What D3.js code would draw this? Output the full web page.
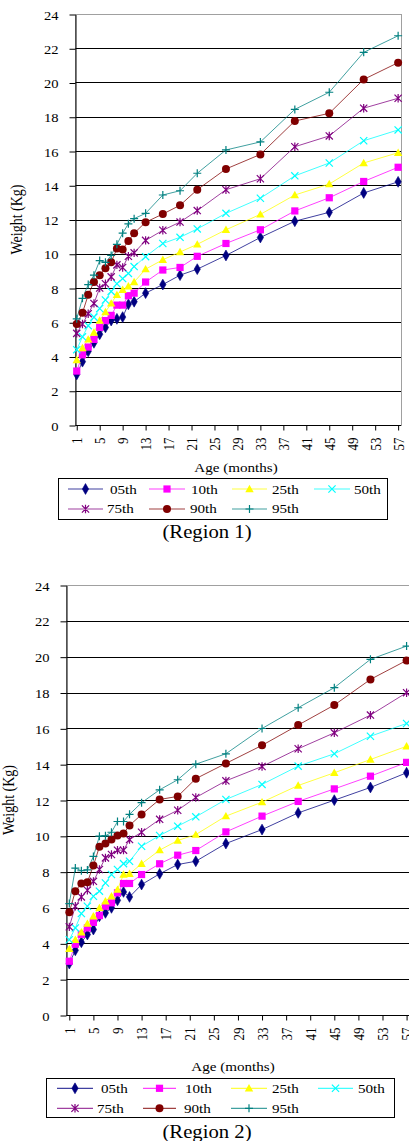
<!DOCTYPE html>
<html><head><meta charset="utf-8">
<script src="https://cdn.jsdelivr.net/npm/d3@7"></script>
<style>
body{margin:0;background:#fff}
svg{display:block}
text{font-family:"Liberation Serif","Times New Roman",serif;fill:#000}
</style>
</head><body>
<svg id="c" width="409" height="1141"></svg>
<script>
// ---------- data ----------
const ages = [1,2,3,4,5,6,7,8,9,10,11,13,16,19,22,27,33,39,45,51,57];
const percentiles = ["05th","10th","25th","50th","75th","90th","95th"];
const xTickValues = [1,5,9,13,17,21,25,29,33,37,41,45,49,53,57];
const yTickValues = [0,2,4,6,8,10,12,14,16,18,20,22,24];

// Region 1
const r1_p05 = [2.95,3.7,4.3,4.8,5.3,5.7,6.1,6.2,6.3,7.05,7.2,7.7,8.2,8.75,9.1,9.9,10.95,11.9,12.42,13.55,14.2];
const r1_p10 = [3.15,4.1,4.55,5.0,5.7,6.1,6.4,7.0,7.0,7.55,7.7,8.35,9.05,9.2,9.85,10.6,11.4,12.5,13.27,14.22,15.05];
const r1_p25 = [3.8,4.5,5.0,5.4,6.1,6.6,7.1,7.6,7.9,8.1,8.35,9.1,9.65,10.1,10.55,11.4,12.3,13.43,14.07,15.3,15.9];
const r1_p50 = [4.4,5.15,5.8,6.3,6.8,7.3,7.8,8.25,8.55,8.85,9.25,9.83,10.6,10.96,11.45,12.36,13.24,14.55,15.3,16.6,17.23];
const r1_p75 = [5.35,5.9,6.5,7.1,8.0,8.25,8.65,9.35,9.2,9.85,10.05,10.78,11.37,11.85,12.52,13.74,14.38,16.25,16.88,18.5,19.08];
const r1_p90 = [5.9,6.55,7.6,8.35,8.75,9.15,9.5,10.3,10.25,10.75,11.2,11.84,12.32,12.83,13.74,14.95,15.8,17.75,18.2,20.18,21.16];
const r1_p95 = [6.2,7.4,8.2,8.75,9.6,9.5,9.9,10.55,11.2,11.75,12.05,12.36,13.43,13.68,14.7,16.06,16.53,18.43,19.43,21.76,22.73];

// Region 2
const r2_p05 = [2.87,3.61,4.06,4.49,4.77,5.51,5.7,5.98,6.4,6.87,6.59,7.28,7.88,8.4,8.58,9.57,10.35,11.28,11.99,12.7,13.52];
const r2_p10 = [3.0,3.95,4.5,4.86,5.17,5.55,6.07,6.26,6.82,7.34,7.34,7.84,8.44,8.92,9.18,10.22,11.1,11.92,12.62,13.33,14.1];
const r2_p25 = [3.69,4.2,4.62,5.1,5.51,5.98,6.35,6.63,7.0,7.84,7.88,8.44,9.2,9.74,10.07,11.1,11.88,12.81,13.52,14.26,15.0];
const r2_p50 = [4.2,4.86,5.66,6.07,6.63,6.91,7.37,7.84,8.12,8.45,8.58,9.42,10.02,10.54,11.06,12.03,12.87,13.89,14.58,15.56,16.27];
const r2_p75 = [4.92,6.07,6.59,6.96,7.46,8.12,8.77,8.96,9.2,9.2,9.79,10.2,10.92,11.43,12.14,13.07,13.87,14.86,15.75,16.74,17.99];
const r2_p90 = [5.73,6.91,7.34,7.41,8.34,9.39,9.57,9.79,10.02,10.13,10.58,11.19,12.03,12.2,13.19,14.04,15.05,16.18,17.3,18.73,19.79];
const r2_p95 = [6.22,8.2,8.05,8.1,8.85,9.98,10.0,10.2,10.8,10.8,11.2,11.85,12.57,13.13,14.0,14.58,15.99,17.15,18.27,19.85,20.59];

// ---------- style ----------
const colors = ["#000080","#FF00FF","#FFFF00","#00FFFF","#800080","#800000","#008080"];
const markerTypes = ["diamond","square","triangle","x","star","circle","plus"];
const SX = 1.12; // horizontal stretch of the original raster text

const panels = [
  { title:"(Region 1)", series:[r1_p05,r1_p10,r1_p25,r1_p50,r1_p75,r1_p90,r1_p95],
    left:75.3, right:401, top:14, bottom:425, xDom:[0.75,57.5],
    yTitleX:17, xTitleX:236, xTitleY:471.7, titleY:537.5,
    legBox:[58,478,387,519], legRows:[489,509], legTextRows:[494,513.3],
    legLine:[[68,103],[149,185],[232,267],[314,350]],
    legText:[[110,191,272,354],[107,190,272]] },
  { title:"(Region 2)", series:[r2_p05,r2_p10,r2_p25,r2_p50,r2_p75,r2_p90,r2_p95],
    left:66.3, right:412, top:585, bottom:1015, xDom:[0.5,57.9],
    yTitleX:9, xTitleX:233, xTitleY:1071, titleY:1138,
    legBox:[45.7,1078,394,1117], legRows:[1088.3,1108.3], legTextRows:[1093.3,1113.3],
    legLine:[[57,93],[143,176],[231,267],[318,353]],
    legText:[[101,185,272,358],[97,184,272]] }
];

const svg = d3.select("#c");

function marker(g, type, color, cx, cy){
  const s = 3.6;
  if (type==="diamond"){
    g.append("path").attr("d", d3.symbol(d3.symbolDiamond, 34)()).attr("transform",`translate(${cx},${cy})`).attr("fill",color).attr("stroke",color).attr("stroke-width",0.6);
  } else if (type==="square"){
    g.append("rect").attr("x",cx-3.6).attr("y",cy-3.6).attr("width",7.2).attr("height",7.2).attr("fill",color);
  } else if (type==="triangle"){
    g.append("path").attr("d",`M${cx},${cy-4.2}L${cx+4.2},${cy+3.2}L${cx-4.2},${cy+3.2}Z`).attr("fill",color);
  } else if (type==="circle"){
    g.append("circle").attr("cx",cx).attr("cy",cy).attr("r",4).attr("fill",color);
  } else if (type==="x"){
    g.append("path").attr("d",`M${cx-s},${cy-s}L${cx+s},${cy+s}M${cx-s},${cy+s}L${cx+s},${cy-s}`).attr("stroke",color).attr("stroke-width",1.2).attr("fill","none");
  } else if (type==="star"){
    g.append("path").attr("d",`M${cx-s},${cy-s}L${cx+s},${cy+s}M${cx-s},${cy+s}L${cx+s},${cy-s}M${cx},${cy-s-0.6}L${cx},${cy+s+0.6}`).attr("stroke",color).attr("stroke-width",1.2).attr("fill","none");
  } else if (type==="plus"){
    g.append("path").attr("d",`M${cx-4},${cy}L${cx+4},${cy}M${cx},${cy-4}L${cx},${cy+4}`).attr("stroke",color).attr("stroke-width",1.2).attr("fill","none");
  }
}

function stretchText(g, x, y, str, size, anchor, rot){
  return g.append("text")
    .attr("transform", `translate(${x},${y}) scale(${SX},1)` + (rot ? ` rotate(${rot})` : ""))
    .attr("text-anchor", anchor).attr("font-size", size).text(str);
}

panels.forEach(p => {
  const g = svg.append("g");
  const x = d3.scaleLinear().domain(p.xDom).range([p.left, p.right]);
  const y = d3.scaleLinear().domain([0,24]).range([p.bottom, p.top]);
  const ax = Math.round(p.left)+0.5;

  // plot area border (gray)
  g.append("rect").attr("x",ax).attr("y",Math.round(p.top)+0.5)
    .attr("width",Math.round(p.right)-Math.round(p.left)).attr("height",Math.round(p.bottom)-Math.round(p.top))
    .attr("fill","#fff").attr("stroke","#a0a0a0").attr("stroke-width",1);

  // gridlines
  g.append("g").selectAll("line").data(yTickValues.filter(v=>v>0 && v<24)).join("line")
    .attr("x1",ax).attr("x2",p.right)
    .attr("y1",d=>Math.round(y(d))+0.5).attr("y2",d=>Math.round(y(d))+0.5)
    .attr("stroke","#000").attr("stroke-width",1);

  // y axis
  const yAxis = g.append("g").attr("transform",`translate(${ax},0.5)`)
    .call(d3.axisLeft(y).tickValues(yTickValues).tickSizeInner(6).tickSizeOuter(0).tickFormat(d3.format("d")));
  yAxis.select(".domain").attr("stroke","#000");
  yAxis.selectAll(".tick line").attr("stroke","#000");
  yAxis.selectAll(".tick text").attr("x",null).attr("dy",null)
    .attr("transform",`translate(-17,4.5) scale(${SX},1)`)
    .attr("text-anchor","end").attr("font-size",13).attr("fill","#000");

  // x axis
  const by = Math.round(p.bottom)+0.5;
  const xAxis = g.append("g").attr("transform",`translate(0,${by})`)
    .call(d3.axisBottom(x).tickValues(xTickValues).tickSizeInner(5).tickSizeOuter(0).tickFormat(d3.format("d")));
  xAxis.select(".domain").attr("stroke","#000").attr("d",`M${ax},0H${p.right}`);
  xAxis.selectAll(".tick line").attr("stroke","#000");
  xAxis.selectAll(".tick text").attr("x",null).attr("y",null).attr("dy","0.35em")
    .attr("transform",`translate(0,12) scale(${SX},1) rotate(-90)`)
    .attr("text-anchor","end").attr("font-size",13).attr("fill","#000");

  // series lines
  const line = d3.line().x((d,i)=>x(ages[i])).y(d=>y(d));
  p.series.forEach((vals,si)=>{
    g.append("path").datum(vals).attr("d",line).attr("fill","none")
      .attr("stroke",colors[si]).attr("stroke-width",1).attr("stroke-opacity",0.75);
  });
  p.series.forEach((vals,si)=>{
    const mg = g.append("g");
    vals.forEach((v,i)=>marker(mg, markerTypes[si], colors[si], x(ages[i]), y(v)));
  });

  // axis titles
  stretchText(g, p.yTitleX, (p.top+p.bottom)/2, "Weight (Kg)", 14, "middle", -90).attr("dy","0.35em");
  stretchText(g, p.xTitleX, p.xTitleY, "Age (months)", 13.5, "middle");

  // legend
  const [lx0,ly0,lx1,ly1] = p.legBox;
  g.append("rect").attr("x",Math.round(lx0)+0.5).attr("y",Math.round(ly0)+0.5)
    .attr("width",Math.round(lx1-lx0)).attr("height",Math.round(ly1-ly0))
    .attr("fill","#fff").attr("stroke","#000").attr("stroke-width",1);
  percentiles.forEach((name,si)=>{
    const row = si<4 ? 0 : 1, col = si<4 ? si : si-4;
    const [a,b] = p.legLine[col];
    const cy = p.legRows[row];
    g.append("line").attr("x1",a).attr("x2",b).attr("y1",cy).attr("y2",cy)
      .attr("stroke",colors[si]).attr("stroke-width",1.2).attr("stroke-opacity",0.75);
    marker(g, markerTypes[si], colors[si], (a+b)/2, cy);
    stretchText(g, p.legText[row][col], p.legTextRows[row], name, 13.5, "start");
  });

  // region title
  stretchText(g, 207, p.titleY, p.title, 18.5, "middle");
});
</script>
</body></html>
